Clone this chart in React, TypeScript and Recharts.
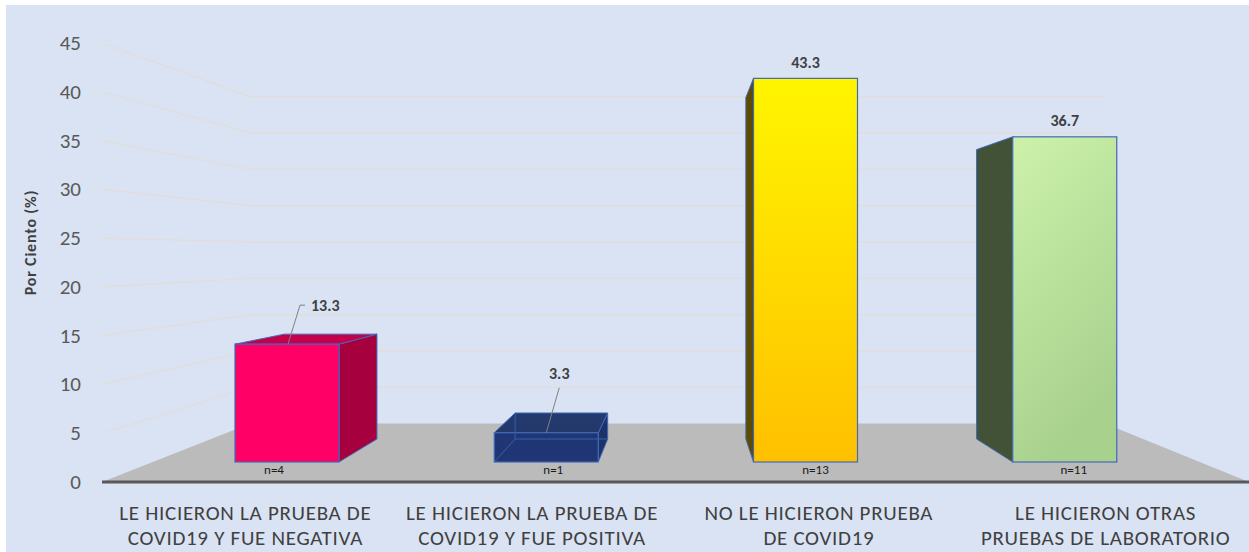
import React from 'react';
import { Bar, BarChart, CartesianGrid, XAxis, YAxis } from 'recharts';

const categories = [
  'LE HICIERON LA PRUEBA DE\nCOVID19 Y FUE NEGATIVA',
  'LE HICIERON LA PRUEBA DE\nCOVID19 Y FUE POSITIVA',
  'NO LE HICIERON PRUEBA\nDE COVID19',
  'LE HICIERON OTRAS\nPRUEBAS DE LABORATORIO'
];
const percents = [13.3, 3.3, 43.3, 36.7];
const counts = [4, 1, 13, 11];
const yTicks = [0, 5, 10, 15, 20, 25, 30, 35, 40, 45];

const data = categories.map((name, i) => ({ name, value: percents[i], n: counts[i] }));

// layout of the fake 3d scene (chart coordinates)
const CHART_W = 1243;
const CHART_H = 547;
const PLOT = { left: 96, top: 38, right: 1243, bottom: 477 };
const VP = { x: 678, y: 248 };
const WALL_DEPTH = 0.745;
const BAR_DEPTH = 0.89;
const BAR_LIFT = 20;
const BAR_SCALE = 8.86;
const barDomain = [-BAR_LIFT / BAR_SCALE, (PLOT.bottom - PLOT.top - BAR_LIFT) / BAR_SCALE];

const FONT = 'Carlito, Lato, "Open Sans", sans-serif';
const OUTLINE = '#4169B8';

const BAR_STYLES = [
  { front: ['#FF0066', '#FF0066'], side: '#A6003F', top: '#C4004C', ghost: false },
  { front: ['#182F70', '#182F70'], side: '#162A62', top: '#1A3066', ghost: true },
  { front: ['#FFF500', '#FFC000'], side: '#5E4A00', top: '#5E4A00', ghost: false },
  { front: ['#CCF2AA', '#A9D18E'], side: '#415236', top: '#415236', ghost: false }
];

const CALLOUTS = [
  { line: [[1, 0], [13, -39], [18, -39]], tx: 24, ty: -39, anchor: 'start' },
  { line: [[0, 0], [13, -45]], tx: 13, ty: -59, anchor: 'middle' },
  { line: null, tx: 0, ty: -16, anchor: 'middle' },
  { line: null, tx: 0, ty: -16, anchor: 'middle' }
];
const N_DX = [-13, 7, 10, 9];

const toward = (px: number, py: number, k: number) => [VP.x + k * (px - VP.x), VP.y + k * (py - VP.y)];
const pts = (list: number[][]) => list.map((p) => p.join(',')).join(' ');

const renderGridLine = (props: any) => {
  const { x1, y1, x2 } = props;
  const [bx, by] = toward(x1, y1, WALL_DEPTH);
  const [rx] = toward(x2, y1, WALL_DEPTH);
  if (Math.abs(y1 - PLOT.bottom) < 1) {
    return <polygon key={`floor-${y1}`} points={pts([[x1, y1], [bx, by], [rx, by], [x2, y1]])} fill="#BBBBBB" />;
  }
  return (
    <polyline key={`grid-${y1}`} points={pts([[x1, y1], [bx, by], [rx, by]])} fill="none" stroke="#E2DDD6" strokeWidth={1.2} />
  );
};

const Box3D = (props: any) => {
  const { x, y, width, height, index, payload } = props;
  const st = BAR_STYLES[index];
  const L = x, R = x + width, T = y, B = y + height;
  const [bL, bT] = toward(L, T, BAR_DEPTH);
  const [bR, bB] = toward(R, B, BAR_DEPTH);
  const cx = L + width / 2;
  const gid = `front-grad-${index}`;
  const op = st.ghost ? 0.95 : 1;

  let side = null;
  if (R < VP.x) side = [[R, T], [bR, bT], [bR, bB], [R, B]];
  else if (L > VP.x) side = [[L, T], [bL, bT], [bL, bB], [L, B]];
  const top = T > VP.y ? [[L, T], [R, T], [bR, bT], [bL, bT]] : null;

  const call = CALLOUTS[index];
  return (
    <g>
      <defs>
        <linearGradient id={gid} x1="0" y1="0" x2={index === 3 ? '0.35' : '0'} y2="1">
          <stop offset="0%" stopColor={st.front[0]} />
          <stop offset="100%" stopColor={st.front[1]} />
        </linearGradient>
      </defs>
      {side && <polygon points={pts(side)} fill={st.side} stroke={OUTLINE} strokeWidth={1} fillOpacity={op} />}
      {top && <polygon points={pts(top)} fill={st.top} stroke={OUTLINE} strokeWidth={1} fillOpacity={op} />}
      <rect x={L} y={T} width={width} height={height} fill={`url(#${gid})`} stroke={OUTLINE} strokeWidth={1.2} fillOpacity={op} />
      {st.ghost && (
        <polyline points={pts([[L, B], [bL, bB], [bR, bB]])} fill="none" stroke="#3560B0" strokeWidth={1} />
      )}
      {st.ghost && <line x1={bL} y1={bT} x2={bL} y2={bB} stroke="#3560B0" strokeWidth={1} />}
      {call.line && (
        <polyline points={pts(call.line.map(([dx, dy]) => [cx + dx, T + dy]))} fill="none" stroke="#808080" strokeWidth={1} />
      )}
      <text x={cx + call.tx} y={T + call.ty} textAnchor={call.anchor} dominantBaseline="central"
        fontFamily={FONT} fontSize={16} fontWeight="bold" fill="#404040">
        {payload.value.toFixed(1)}
      </text>
      <text x={cx + N_DX[index]} y={B + 12} textAnchor="middle" fontFamily={FONT} fontSize={13} fill="#1a1a1a">
        {`n=${payload.n}`}
      </text>
    </g>
  );
};

const CategoryTick = (props: any) => {
  const { x, y, payload } = props;
  const lines = String(payload.value).split('\n');
  return (
    <g>
      {lines.map((line, i) => (
        <text key={i} x={x} y={y + 38 + i * 25} textAnchor="middle" fontFamily={FONT} fontSize={21}
          letterSpacing={0.7} fill="#404040">
          {line}
        </text>
      ))}
    </g>
  );
};

const ValueTick = (props: any) => {
  const { x, y, payload } = props;
  return (
    <text x={x} y={y} textAnchor="end" dominantBaseline="central" fontFamily={FONT} fontSize={21} fill="#595959">
      {payload.value}
    </text>
  );
};

const YTitle = (props: any) => {
  const { viewBox } = props;
  const tx = viewBox.x + 24;
  const ty = viewBox.y + viewBox.height / 2 - 20;
  return (
    <text x={tx} y={ty} transform={`rotate(-90 ${tx} ${ty})`} textAnchor="middle" dominantBaseline="central"
      fontFamily={FONT} fontSize={16} letterSpacing={0.8} fontWeight="bold" fill="#404040">
      Por Ciento (%)
    </text>
  );
};

export default function App() {
  return (
    <div style={{ position: 'absolute', left: 0, top: 0, width: 1249, height: 552, background: '#ffffff' }}>
      <div style={{ position: 'absolute', left: 6, top: 5, width: CHART_W, height: CHART_H, background: '#DAE3F3' }}>
        <BarChart width={CHART_W} height={CHART_H} data={data} margin={{ top: PLOT.top, right: 0, bottom: 0, left: 0 }}>
          <CartesianGrid vertical={false} horizontal={renderGridLine} />
          <XAxis dataKey="name" height={70} tickLine={false} tickSize={0} tickMargin={0}
            axisLine={{ stroke: '#595959', strokeWidth: 3 }} tick={(p: any) => <CategoryTick {...p} />} interval={0} />
          <XAxis xAxisId="bars" dataKey="name" hide padding={{ left: 55, right: 55 }} />
          <YAxis type="number" domain={[0, 45]} allowDataOverflow ticks={yTicks} interval={0} width={PLOT.left}
            axisLine={false} tickLine={false} tickSize={0} tickMargin={21} tick={(p: any) => <ValueTick {...p} />}
            label={{ content: (p: any) => <YTitle {...p} /> }} />
          <YAxis yAxisId="bars" domain={barDomain} allowDataOverflow hide />
          <Bar dataKey="value" xAxisId="bars" yAxisId="bars" barSize={104} shape={(p: any) => <Box3D {...p} />}
            isAnimationActive={false} />
        </BarChart>
      </div>
    </div>
  );
}
